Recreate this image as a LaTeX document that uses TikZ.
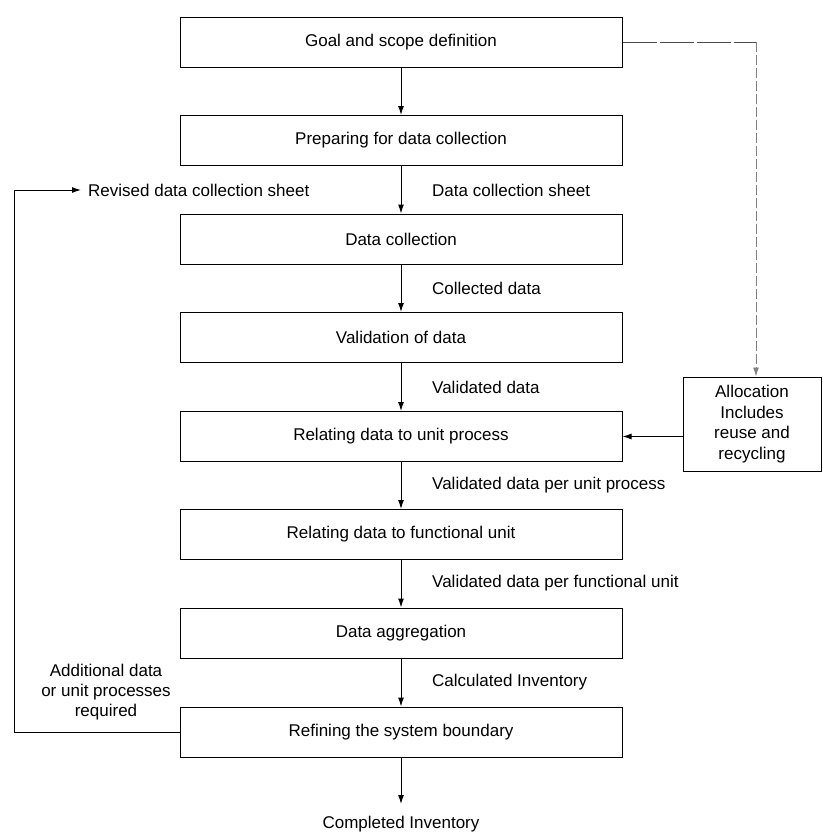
\documentclass[tikz,border=0pt]{standalone}
\usepackage{fontspec}
\setmainfont{Liberation Sans}
\usetikzlibrary{arrows.meta}
\begin{document}
\begin{tikzpicture}[x=1pt,y=-1pt,
  stepbox/.style={draw, line width=1pt, minimum width=442pt, minimum height=50pt, inner sep=0pt, font=\fontsize{17}{19}\selectfont},
  lbl/.style={anchor=west, inner sep=0pt, font=\fontsize{17}{19}\selectfont},
  flow/.style={line width=1pt, -{Latex[length=9pt,width=6pt]}},
  plain/.style={line width=1pt}]
\useasboundingbox (0,0) rectangle (822,835);
\node[stepbox] (b1) at (401,42) {Goal and scope definition};
\node[stepbox] (b2) at (401,140.5) {Preparing for data collection};
\node[stepbox] (b3) at (401,239) {Data collection};
\node[stepbox] (b4) at (401,337.5) {Validation of data};
\node[stepbox] (b5) at (401,436.5) {Relating data to unit process};
\node[stepbox] (b6) at (401,534.5) {Relating data to functional unit};
\node[stepbox] (b7) at (401,633) {Data aggregation};
\node[stepbox] (b8) at (401,732) {Refining the system boundary};
\node[draw, line width=1pt, minimum width=138pt, minimum height=94pt, inner sep=0pt, align=center, font=\fontsize{17}{20.5}\selectfont] (alloc) at (752,424) {Allocation\\Includes\\reuse and\\recycling};
\node[inner sep=0pt, font=\fontsize{17}{19}\selectfont] (done) at (401,824) {Completed Inventory};
\node[lbl] (l2) at (432,190) {Data collection sheet};
\node[lbl] (rev) at (88,190) {Revised data collection sheet};
\node[lbl] (l3) at (432,288.5) {Collected data};
\node[lbl] (l4) at (432,387) {Validated data};
\node[lbl] (l5) at (432,485) {Validated data per unit process};
\node[lbl] (l6) at (432,583) {Validated data per functional unit};
\node[lbl] (l7) at (432,682) {Calculated Inventory};
\node[align=center, inner sep=0pt, font=\fontsize{17}{20}\selectfont] (add) at (106,692) {Additional data\\or unit processes\\required};
\coordinate (c1) at (14,732);
\coordinate (c2) at (14,190);
\coordinate (c3) at (81,190);
\coordinate (d1) at (756,42);
\draw[flow] (b1) -- (b2);
\draw[flow] (b2) -- (b3);
\draw[flow] (b3) -- (b4);
\draw[flow] (b4) -- (b5);
\draw[flow] (b5) -- (b6);
\draw[flow] (b6) -- (b7);
\draw[flow] (b7) -- (b8);
\draw[flow] (b8) -- (401,804) coordinate (dtip);
\draw[flow] (b8.west) -- (c1) -- (c2) -- (c3);
\draw[flow] (alloc.west |- b5.east) -- (b5.east);
\draw[line width=1pt, gray!60!black, dash pattern=on 34pt off 3pt] (b1.east) -- (d1);
\draw[line width=1pt, gray, dash pattern=on 10pt off 3pt, -{Latex[length=9pt,width=6pt]}] (d1) -- (alloc.north -| d1);
\end{tikzpicture}
\end{document}
